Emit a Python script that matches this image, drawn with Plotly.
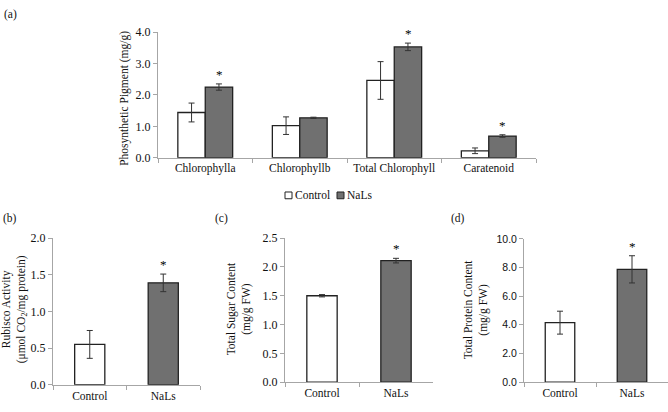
import plotly.graph_objects as go

# ---------------- data ----------------
pigment_cats = ["Chlorophylla", "Chlorophyllb", "Total Chlorophyll", "Caratenoid"]
pigment_control = [1.44, 1.02, 2.46, 0.22]
pigment_control_err = [0.30, 0.28, 0.60, 0.09]
pigment_nals = [2.25, 1.27, 3.53, 0.69]
pigment_nals_err = [0.10, 0.02, 0.12, 0.04]
pigment_sig = [True, False, True, True]

groups = ["Control", "NaLs"]
rubisco = [0.55, 1.39]
rubisco_err = [0.19, 0.12]
sugar = [1.50, 2.11]
sugar_err = [0.02, 0.04]
protein = [4.15, 7.87]
protein_err = [0.80, 0.95]
single_sig = [False, True]

series_names = ["Control", "NaLs"]
series_fill = ["#ffffff", "#707070"]

# ---------------- helpers ----------------
W, H = 668, 412
SERIF = "Liberation Serif"
SANS = "Liberation Sans"
TXT = "#111111"
AXC = "#a6a6a6"


def px(x):
    return x / W


def py(y):
    return 1 - y / H


fig = go.Figure()

err_style = dict(type="data", color="#333333", thickness=1, width=3)
line_style = dict(color="#222222", width=1.3)

# panel (a)
fig.add_trace(go.Bar(x=pigment_cats, y=pigment_control, name=series_names[0],
                     marker=dict(color=series_fill[0], line=line_style),
                     error_y=dict(array=pigment_control_err, **err_style),
                     xaxis="x", yaxis="y", showlegend=False))
fig.add_trace(go.Bar(x=pigment_cats, y=pigment_nals, name=series_names[1],
                     marker=dict(color=series_fill[1], line=line_style),
                     error_y=dict(array=pigment_nals_err, **err_style),
                     xaxis="x", yaxis="y", showlegend=False))

# panels (b)-(d)
singles = [(rubisco, rubisco_err, "x2", "y2"),
           (sugar, sugar_err, "x3", "y3"),
           (protein, protein_err, "x4", "y4")]
for vals, errs, xa, ya in singles:
    fig.add_trace(go.Bar(x=groups, y=vals,
                         marker=dict(color=series_fill, line=line_style),
                         error_y=dict(array=errs, **err_style),
                         xaxis=xa, yaxis=ya, showlegend=False))

annotations = []
star_font = dict(family=SERIF, size=13, color="black")
# significance stars
for cat, v, e, s in zip(pigment_cats, pigment_nals, pigment_nals_err, pigment_sig):
    if s:
        annotations.append(dict(x=cat, y=v + e, xref="x", yref="y", text="*",
                                showarrow=False, xshift=14, yanchor="bottom",
                                font=star_font))
for (vals, errs, xa, ya) in singles:
    for g, v, e, s in zip(groups, vals, errs, single_sig):
        if s:
            annotations.append(dict(x=g, y=v + e, xref=xa, yref=ya, text="*",
                                    showarrow=False, yanchor="bottom",
                                    font=star_font))

# panel labels
for lbl, x, y in [("(a)", 2, 8), ("(b)", 1, 219), ("(c)", 213, 219), ("(d)", 449, 219)]:
    annotations.append(dict(x=px(x), y=py(y), xref="paper", yref="paper", text=lbl,
                            showarrow=False, xanchor="left", yanchor="middle",
                            font=dict(family=SERIF, size=11.5, color=TXT)))

# y-axis titles
ytitles = [("Phosynthetic Pigment (mg/g)", 125, 95),
           ("Rubisco Activity<br>(μmol CO<sub>2</sub>/mg protein)", 14, 313),
           ("Total Sugar Content<br>(mg/g FW)", 239, 313),
           ("Total Protein Content<br>(mg/g FW)", 476, 313)]
for t, x, y in ytitles:
    annotations.append(dict(x=px(x), y=py(y), xref="paper", yref="paper", text=t,
                            showarrow=False, textangle=-90, xanchor="center",
                            yanchor="middle",
                            font=dict(family=SERIF, size=11.5, color=TXT)))

# legend (text items)
annotations.append(dict(x=px(292.5), y=py(195), xref="paper", yref="paper",
                        text=series_names[0], showarrow=False, xanchor="left",
                        yanchor="middle", font=dict(family=SERIF, size=11.5, color=TXT)))
annotations.append(dict(x=px(344.5), y=py(195), xref="paper", yref="paper",
                        text=series_names[1], showarrow=False, xanchor="left",
                        yanchor="middle", font=dict(family=SERIF, size=11.5, color=TXT)))
shapes = [
    dict(type="rect", xref="paper", yref="paper", x0=px(285), x1=px(292),
         y0=py(198.5), y1=py(191.5), fillcolor=series_fill[0],
         line=dict(color="#222222", width=1)),
    dict(type="rect", xref="paper", yref="paper", x0=px(337), x1=px(344),
         y0=py(198.5), y1=py(191.5), fillcolor=series_fill[1],
         line=dict(color="#222222", width=1)),
]


def xax(domain, anchor):
    return dict(domain=domain, anchor=anchor, type="category", showline=True,
                linecolor=AXC, linewidth=1, ticks="outside", tickson="boundaries",
                ticklen=4, tickcolor=AXC, showgrid=False, zeroline=False,
                tickfont=dict(family=SERIF, size=11.5, color=TXT))


def yax(domain, anchor, rng, dtick, fam=SERIF, size=12):
    return dict(domain=domain, anchor=anchor, range=rng, dtick=dtick, tick0=0,
                tickformat=".1f", showline=True, linecolor=AXC, linewidth=1,
                ticks="outside", ticklen=4, tickcolor=AXC, showgrid=False,
                zeroline=False, tickfont=dict(family=fam, size=size, color=TXT))


fig.update_layout(
    width=W, height=H,
    margin=dict(l=0, r=0, t=0, b=0),
    paper_bgcolor="white", plot_bgcolor="white",
    barmode="group", bargap=0.42, bargroupgap=0,
    showlegend=False,
    xaxis=xax([px(158), px(536)], "y"),
    yaxis=yax([py(156), py(26)], "x", [0, 4], 1),
    xaxis2=xax([px(53), px(200)], "y2"),
    yaxis2=yax([py(391), py(239.3)], "x2", [0, 2], 0.5),
    xaxis3=xax([px(285), px(433)], "y3"),
    yaxis3=yax([py(388.3), py(239.3)], "x3", [0, 2.5], 0.5),
    xaxis4=xax([px(524), px(668)], "y4"),
    yaxis4=yax([py(388.3), py(240)], "x4", [0, 10], 2, fam=SANS, size=10.5),
    annotations=annotations,
    shapes=shapes,
)

# narrower bars on single-series panels
for tr in fig.data[2:]:
    tr.width = 0.41

fig.write_html("out.html",
               config={"displayModeBar": False},
               post_script="document.body.style.margin='0';document.body.style.overflow='hidden';")
